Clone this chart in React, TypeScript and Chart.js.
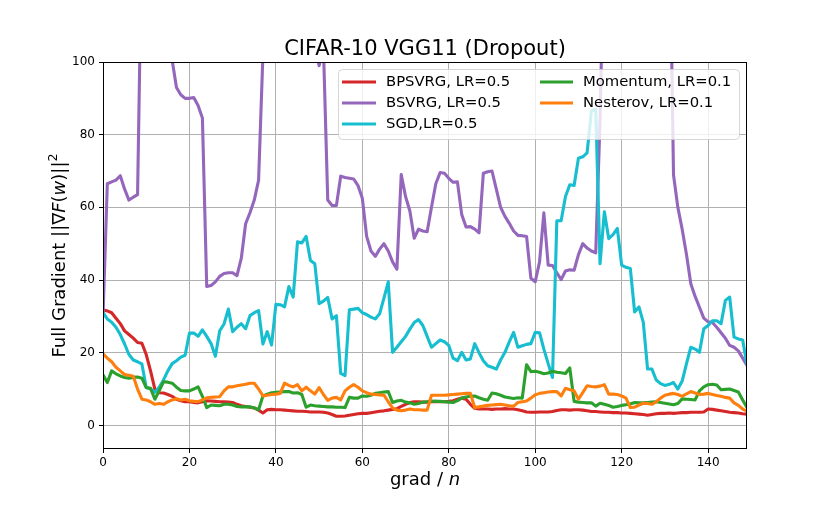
import { useEffect, useRef } from 'react'
import { Chart, registerables } from 'chart.js'

Chart.register(...registerables)

// grad / n index
const steps = Array.from({ length: 150 }, (_, i) => i)
const xTicks = [0, 20, 40, 60, 80, 100, 120, 140]
const yTicks = [0, 20, 40, 60, 80, 100]

const bpsvrg = [
  31.8, 31.5, 31, 29.5, 28, 26, 25, 24, 22.8, 22.6,
  19.5, 15, 10, 9, 8.9, 8.5, 8, 7.2, 6.8, 6.5,
  6.5, 6.3, 6.2, 6.5, 6.8, 6.7, 6.6, 6.5, 6.5, 6.4,
  6.3, 5.8, 5.4, 5.2, 5.0, 4.8, 4.2, 3.4, 4.3, 4.4,
  4.3, 4.3, 4.2, 4.1, 4.0, 3.9, 3.9, 3.8, 3.7, 3.7,
  3.7, 3.6, 3.4, 3.0, 2.5, 2.5, 2.6, 2.8, 3.0, 3.2,
  3.3, 3.3, 3.5, 3.7, 3.9, 4.0, 4.2, 4.4, 4.6, 5.2,
  5.8, 6.3, 6.5, 6.5, 6.4, 6.4, 6.5, 6.6, 6.5, 6.5,
  6.6, 6.8, 7.2, 7.5, 7.2, 5.8, 4.7, 4.5, 4.5, 4.5,
  4.4, 4.5, 4.5, 4.6, 4.5, 4.5, 4.3, 4.0, 3.7, 3.6,
  3.6, 3.7, 3.7, 3.7, 3.8, 4.1, 4.3, 4.3, 4.2, 4.3,
  4.3, 4.2, 4.0, 3.8, 3.8, 3.7, 3.6, 3.6, 3.5, 3.5,
  3.4, 3.4, 3.3, 3.2, 3.1, 3.0, 2.8, 3.0, 3.2, 3.3,
  3.3, 3.4, 3.3, 3.4, 3.5, 3.5, 3.6, 3.6, 3.6, 3.7,
  4.5, 4.4, 4.2, 4.0, 3.8, 3.6, 3.5, 3.4, 3.2, 3.1,
]

const bsvrg = [
  30, 66.5, 67, 67.5, 68.7, 65, 62, 62.8, 63.5, 137,
  140, 140, 140, 140, 140, 135, 100.5, 93, 91, 90,
  90, 90.2, 88, 84.6, 38.2, 38.5, 39.5, 41, 41.8, 42,
  42, 41.2, 46, 55.5, 58.5, 62, 67.5, 102, 140, 140,
  140, 140, 140, 140, 140, 140, 140, 140, 140, 105,
  99, 104, 62, 60.5, 60.5, 68.6, 68.2, 68, 67.8, 66,
  62.5, 52, 48, 46.5, 48.5, 50, 48, 45, 43, 69,
  63, 59, 51.5, 54, 53.5, 53.3, 60, 66.5, 69.6, 69.4,
  68, 66.9, 67, 58, 54.6, 54.7, 54, 53, 69.4, 69.8,
  70, 65, 60, 57.5, 55.6, 53.5, 52.3, 52.2, 52, 40.5,
  39.5, 45, 58.5, 44.1, 44, 42, 40.1, 42.5, 42.8, 42.7,
  47, 50, 48.8, 48, 47.5, 84, 140, 140, 140, 140,
  140, 140, 140, 140, 140, 140, 140, 140, 140, 140,
  140, 146, 68.9, 60, 54, 47, 39, 35.5, 32.5, 29.5,
  28.5, 28.3, 27, 25.5, 24, 22, 21.5, 20.5, 18.5, 16.5,
]

const sgd = [
  31, 29.3, 28.4, 27, 25, 22.4, 19.5, 18, 17.5, 16.9,
  10.4, 10, 9.1, 10.5, 12.5, 15, 17, 17.8, 18.8, 19.3,
  25.4, 25.4, 24.5, 26.3, 24.5, 22.5, 19, 26, 27.9, 32,
  25.8, 27, 28, 26.6, 30.2, 31, 31.6, 22.4, 25.8, 22.1,
  33.3, 33.2, 32.6, 38.2, 35.3, 50.5, 50.2, 52, 45.4, 44.5,
  33.5, 34.2, 35.2, 29.3, 30.2, 14.3, 13.7, 31.8, 32, 32.2,
  31, 30.5, 29.8, 29.3, 30.7, 35, 39.5, 20.1, 21.5, 23,
  24.5, 26.5, 28.3, 29.1, 27.5, 24.5, 21.5, 22.5, 23.5, 23,
  22, 18.5, 17.8, 20.1, 18, 18.3, 22.5, 20, 17.8, 16.4,
  16, 15.5, 18, 20.1, 23, 25.6, 21.5, 21.9, 22.3, 22.5,
  25.6, 25.5, 21, 17, 13.2, 56.3, 56.3, 63, 66.2, 66,
  73.5, 73.9, 75, 86.5, 87, 44.5, 58.8, 51.4, 52.5, 54.2,
  44.1, 43.5, 43.2, 31.2, 32.6, 28.4, 15.5, 15.5, 12.5, 11.5,
  11, 11.3, 11.8, 10, 12.2, 17, 21.5, 21, 20.1, 26.6,
  27.5, 28.8, 28.8, 28, 34.4, 35.3, 24.3, 23.8, 23.5, 16.7,
]

const momentum = [
  13.9, 11.8, 15, 14.2, 13.6, 13.2, 13, 13.2, 13.3, 13,
  10.4, 10.2, 7.2, 9.5, 12, 11.9, 11.6, 10.5, 9.6, 9.5,
  9.5, 10, 10.6, 8, 4.9, 5.6, 5.5, 5.4, 5.8, 5.8,
  5.6, 5.2, 5.1, 5.1, 5.1, 4.8, 4.3, 8.1, 8.6, 9,
  9.1, 9.2, 9.3, 9.3, 8.9, 9, 8.5, 5, 5.6, 5.4,
  5.3, 5.2, 5.1, 5.1, 5, 5, 4.9, 7.7, 7.5, 7.5,
  8.1, 8, 8.3, 8.8, 9, 9.2, 9.3, 6.3, 6.7, 6.9,
  6.4, 6.2, 5.8, 6, 6.4, 6.5, 6.7, 6.6, 6.6, 6.5,
  6.4, 6.3, 6.8, 7.5, 7.8, 8, 8.1, 7.6, 7.2, 6.9,
  8.9, 8.7, 8.3, 7.8, 7.6, 7.4, 7.6, 7.5, 16.7, 14.8,
  14.9, 14.6, 14.2, 14.4, 14.9, 14.6, 14.5, 14.3, 15.8, 6.6,
  6.4, 6.3, 6.2, 6.2, 5.3, 6.1, 5.8, 5.5, 5, 5.2,
  5.5, 5.7, 5.9, 6.3, 6.2, 6.2, 6.3, 6.4, 6.5, 6.3,
  6.1, 5.9, 5.7, 6, 7.3, 7.2, 7.1, 7, 9.5, 10.6,
  11.2, 11.3, 11.1, 9.8, 9.9, 10, 9.6, 9.2, 7, 4.9,
]

const nesterov = [
  19.7, 18.5, 17.5, 16, 15, 14, 13.8, 13.5, 10, 7.2,
  7, 6.5, 5.8, 6, 5.8, 6.5, 7, 7.3, 7, 7.2,
  6.8, 6.6, 6.5, 7, 7.6, 7.7, 7.8, 7.9, 9.5, 10.6,
  10.6, 10.9, 11.1, 11.3, 11.6, 11.6, 10, 8.1, 8.3, 8.5,
  8.6, 8.8, 11.6, 11, 10.6, 11.2, 9.5, 10.5, 9.5, 8.6,
  10.4, 8.5, 6.9, 7.5, 7.7, 7, 9.5, 10.5, 11.2, 10.5,
  9.5, 9, 8.6, 8.5, 8.4, 8.3, 6.5, 4.8, 4.2, 4,
  4.2, 4.5, 4.3, 4.3, 4.2, 4.2, 8.3, 8.3, 8.3, 8.3,
  8.4, 8.5, 8.6, 8.7, 8.8, 8.8, 4.9, 5.1, 5.3, 5.5,
  5.6, 5.7, 5.8, 5.6, 5.4, 5.3, 6.3, 6.5, 6.7, 7.5,
  8.4, 8.8, 9, 9.2, 9.3, 9.3, 8.1, 10.2, 9.8, 9.5,
  7.2, 9, 10.9, 10.7, 10.6, 10.8, 11.2, 8.6, 8.6, 8.5,
  8.1, 7.5, 4.9, 5, 5.6, 6.1, 6, 5.8, 6.5, 7.5,
  8.3, 8.6, 8.8, 8.5, 8, 8.7, 9.3, 8.9, 8.5, 8.6,
  8.8, 8.5, 8.2, 8, 7.7, 7.5, 6.2, 5.5, 4.5, 3.9,
]

const series = [
  { label: 'BPSVRG, LR=0.5', values: bpsvrg, color: '#d62728' },
  { label: 'BSVRG, LR=0.5', values: bsvrg, color: '#9467bd' },
  { label: 'SGD,LR=0.5', values: sgd, color: '#17becf' },
  { label: 'Momentum, LR=0.1', values: momentum, color: '#2ca02c' },
  { label: 'Nesterov, LR=0.1', values: nesterov, color: '#ff7f0e' },
]

const FONT = '"DejaVu Sans", sans-serif'
const LINE_W = 3.1

type Part = { t: string; italic?: boolean; sup?: boolean }

function drawRich(ctx: CanvasRenderingContext2D, parts: Part[], size: number) {
  const fontFor = (p: Part) =>
    `${p.italic ? 'italic ' : ''}${p.sup ? size * 0.7 : size}px ${FONT}`
  let total = 0
  for (const p of parts) {
    ctx.font = fontFor(p)
    total += ctx.measureText(p.t).width
  }
  let x = -total / 2
  ctx.textAlign = 'left'
  ctx.textBaseline = 'alphabetic'
  for (const p of parts) {
    ctx.font = fontFor(p)
    ctx.fillText(p.t, x, p.sup ? -size * 0.45 : 0)
    x += ctx.measureText(p.t).width
  }
}

const decor = {
  id: 'decor',
  afterDatasetsDraw(chart: Chart) {
    const { ctx, chartArea: a } = chart
    ctx.save()
    ctx.strokeStyle = '#000'
    ctx.lineWidth = 1
    ctx.strokeRect(a.left + 0.5, a.top + 0.5, a.right - a.left - 1, a.bottom - a.top - 1)
    ctx.restore()
  },
  afterDraw(chart: Chart) {
    const { ctx, chartArea: a } = chart
    const cx = (a.left + a.right) / 2
    ctx.save()
    ctx.fillStyle = '#000'

    // title
    ctx.font = `21px ${FONT}`
    ctx.textAlign = 'center'
    ctx.textBaseline = 'alphabetic'
    ctx.fillText('CIFAR-10 VGG11 (Dropout)', cx, 55)

    // x label
    ctx.save()
    ctx.translate(cx, 485)
    drawRich(ctx, [{ t: 'grad / ' }, { t: 'n', italic: true }], 18)
    ctx.restore()

    // y label
    ctx.save()
    ctx.translate(65, (a.top + a.bottom) / 2)
    ctx.rotate(-Math.PI / 2)
    drawRich(
      ctx,
      [
        { t: 'Full Gradient ||∇' },
        { t: 'F', italic: true },
        { t: '(' },
        { t: 'w', italic: true },
        { t: ')||' },
        { t: '2', sup: true },
      ],
      18,
    )
    ctx.restore()

    // legend
    const bx = 338, by = 69, bw = 401, bh = 70
    ctx.beginPath()
    ctx.roundRect(bx + 0.5, by + 0.5, bw, bh, 4)
    ctx.fillStyle = 'rgba(255,255,255,0.8)'
    ctx.fill()
    ctx.strokeStyle = 'rgba(204,204,204,0.8)'
    ctx.lineWidth = 1
    ctx.stroke()

    const rows = [82, 103, 124]
    const cols = [
      { h0: 342, h1: 376, tx: 386 },
      { h0: 540, h1: 573, tx: 583 },
    ]
    ctx.font = `14.8px ${FONT}`
    ctx.textAlign = 'left'
    ctx.textBaseline = 'middle'
    series.forEach((s, i) => {
      const col = cols[i < 3 ? 0 : 1]
      const y = rows[i < 3 ? i : i - 3]
      ctx.beginPath()
      ctx.moveTo(col.h0, y)
      ctx.lineTo(col.h1, y)
      ctx.strokeStyle = s.color
      ctx.lineWidth = LINE_W
      ctx.stroke()
      ctx.fillStyle = '#000'
      ctx.fillText(s.label, col.tx, y)
    })
    ctx.restore()
  },
}

export default function App() {
  const canvasRef = useRef<HTMLCanvasElement | null>(null)
  const chartRef = useRef<Chart | null>(null)

  useEffect(() => {
    if (!canvasRef.current) return
    const ctx = canvasRef.current.getContext('2d')!

    chartRef.current = new Chart(ctx, {
      type: 'line',
      data: {
        datasets: series.map((s, i) => ({
          label: s.label,
          data: s.values.map((v, j) => ({ x: steps[j], y: v })),
          borderColor: s.color,
          backgroundColor: s.color,
          borderWidth: LINE_W,
          borderJoinStyle: 'round' as const,
          pointRadius: 0,
          tension: 0,
          fill: false,
          clip: 0,
          order: series.length - i,
        })),
      },
      options: {
        animation: false,
        responsive: false,
        devicePixelRatio: 1,
        events: [],
        layout: { padding: { left: 0, right: 83, top: 62, bottom: 0 } },
        plugins: {
          legend: { display: false },
          tooltip: { enabled: false },
          title: { display: false },
        },
        scales: {
          x: {
            type: 'linear',
            min: 0,
            max: 149,
            afterBuildTicks: (s: any) => {
              s.ticks = xTicks.map((v) => ({ value: v }))
            },
            afterFit: (s: any) => {
              s.height = 64
            },
            grid: { color: '#b0b0b0', lineWidth: 1, tickLength: 4, tickColor: '#000', drawTicks: true },
            border: { display: false },
            ticks: { color: '#000', font: { family: FONT, size: 12 }, padding: 3, maxRotation: 0 },
          },
          y: {
            type: 'linear',
            min: -6.5,
            max: 100,
            afterBuildTicks: (s: any) => {
              s.ticks = yTicks.map((v) => ({ value: v }))
            },
            afterFit: (s: any) => {
              s.width = 103
            },
            grid: { color: '#b0b0b0', lineWidth: 1, tickLength: 4, tickColor: '#000', drawTicks: true },
            border: { display: false },
            ticks: { color: '#000', font: { family: FONT, size: 12 }, padding: 4 },
          },
        },
      },
      plugins: [decor],
    })

    return () => chartRef.current?.destroy()
  }, [])

  return (
    <div style={{ position: 'absolute', left: 0, top: 0, width: 830, height: 513, background: '#fff' }}>
      <canvas ref={canvasRef} width={830} height={513} />
    </div>
  )
}
